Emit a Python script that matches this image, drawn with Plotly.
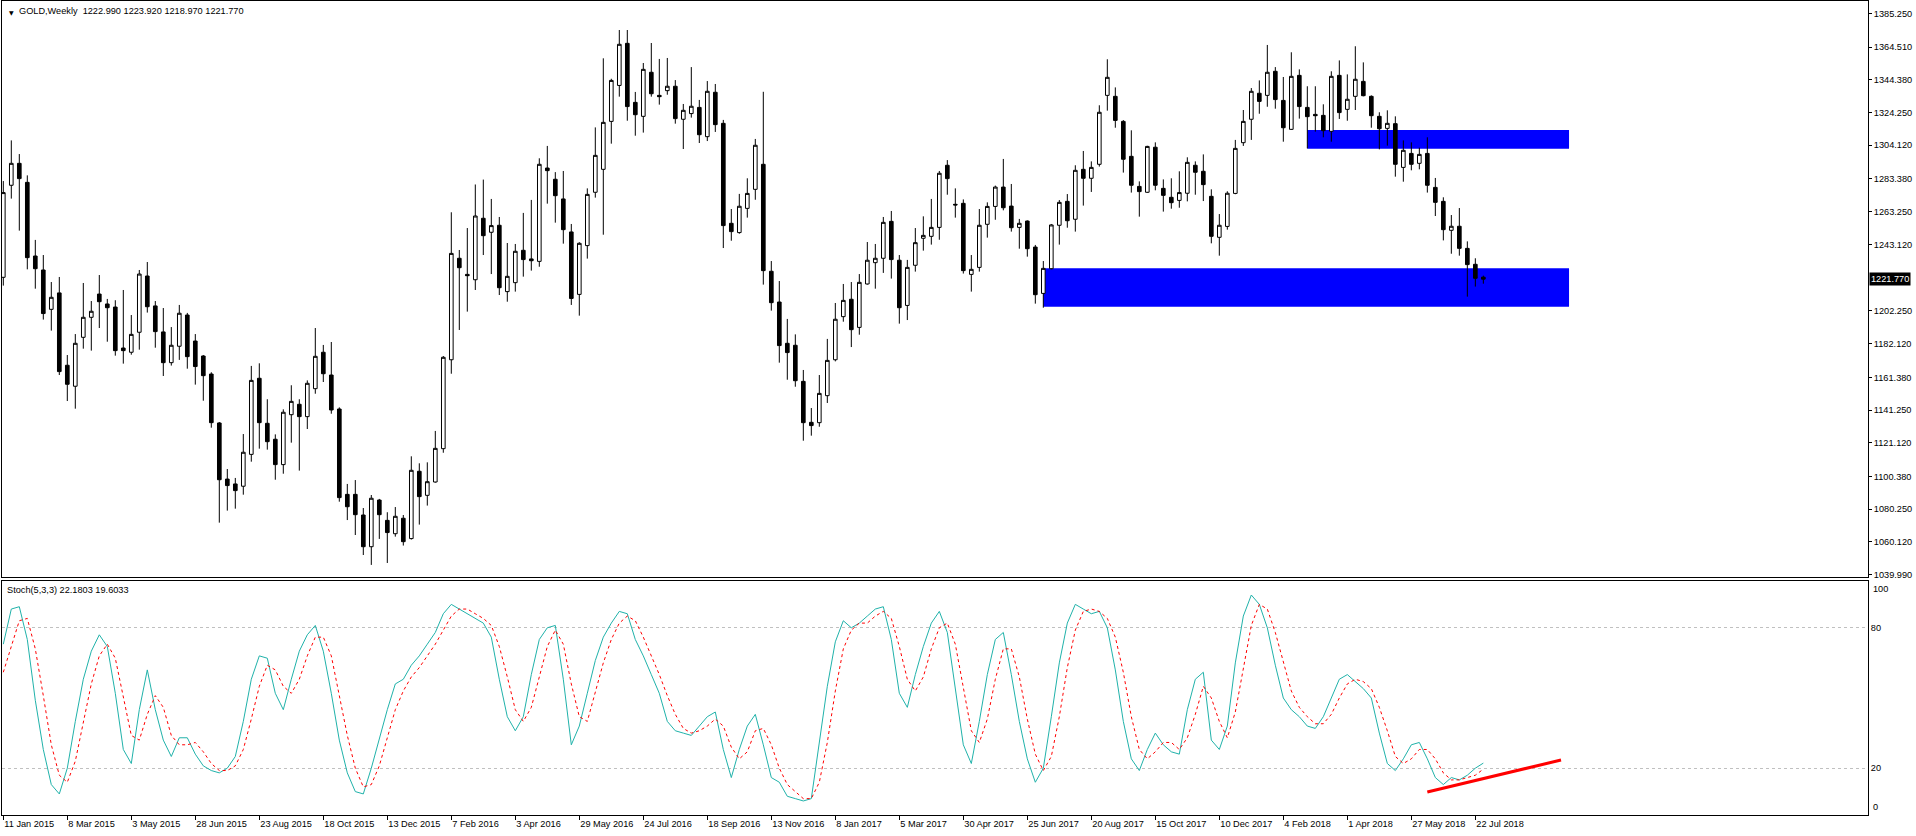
import pandas as pd
import plotly.graph_objects as go
from plotly.subplots import make_subplots

# ---------------- data ----------------
week_start = "2015-01-11"
n_weeks = 186
dates = pd.date_range(week_start, periods=n_weeks, freq="7D")

open_ = [1222.9, 1279.5, 1293.0, 1281.3, 1236.0, 1227.4, 1203.2, 1213.3, 1168.8, 1155.9,
         1186.0, 1198.3, 1212.6, 1206.5, 1204.6, 1179.4, 1176.8, 1189.1, 1223.7, 1205.3,
         1189.3, 1170.4, 1180.5, 1199.7, 1183.7, 1174.5, 1163.4, 1133.3, 1098.8, 1095.8,
         1094.4, 1114.0, 1160.8, 1133.1, 1123.3, 1107.7, 1138.4, 1144.8, 1137.2, 1154.4,
         1176.8, 1162.8, 1141.9, 1089.4, 1089.4, 1076.7, 1057.2, 1085.9, 1073.4, 1065.2,
         1074.7, 1062.2, 1103.6, 1088.8, 1097.0, 1117.5, 1172.2, 1234.6, 1224.7, 1221.4,
         1259.2, 1250.6, 1254.9, 1214.1, 1219.6, 1239.5, 1234.2, 1232.7, 1290.1, 1283.2,
         1271.1, 1250.8, 1212.4, 1242.4, 1275.2, 1289.3, 1318.8, 1340.9, 1366.8, 1330.5,
         1321.9, 1349.0, 1334.8, 1337.7, 1340.4, 1320.1, 1323.6, 1327.4, 1309.4, 1336.7,
         1317.6, 1256.1, 1250.4, 1265.3, 1277.0, 1292.4, 1226.6, 1207.7, 1182.3, 1181.1,
         1158.9, 1133.7, 1133.5, 1150.1, 1172.2, 1198.7, 1209.4, 1192.1, 1218.8, 1231.9,
         1234.6, 1257.3, 1233.4, 1205.6, 1230.3, 1246.9, 1248.1, 1253.6, 1291.8, 1267.8,
         1268.4, 1224.7, 1229.0, 1255.5, 1266.5, 1278.4, 1266.7, 1253.6, 1257.5, 1241.5,
         1213.0, 1228.2, 1254.9, 1269.6, 1258.6, 1289.3, 1283.8, 1292.4, 1334.8, 1334.2,
         1318.8, 1297.3, 1278.8, 1275.2, 1302.9, 1277.6, 1272.1, 1270.2, 1274.6, 1291.8,
         1288.1, 1272.7, 1247.5, 1254.2, 1274.5, 1305.7, 1320.1, 1336.1, 1334.8, 1349.6,
         1331.7, 1313.9, 1347.1, 1327.4, 1323.1, 1322.5, 1312.7, 1347.1, 1326.2, 1334.2,
         1343.4, 1334.2, 1321.9, 1314.5, 1317.4, 1290.5, 1299.1, 1293.0, 1299.1, 1278.2,
         1269.6, 1251.8, 1254.3, 1240.7, 1230.9, 1222.99]
high = [1282.1, 1307.1, 1298.7, 1285.6, 1245.9, 1236.6, 1220.0, 1223.1, 1175.1, 1188.0,
        1219.4, 1208.3, 1224.3, 1209.6, 1208.8, 1215.1, 1199.7, 1227.4, 1232.3, 1208.3,
        1204.0, 1192.3, 1205.9, 1201.0, 1188.0, 1175.1, 1164.5, 1133.9, 1105.0, 1099.5,
        1126.5, 1168.4, 1170.0, 1147.9, 1126.3, 1141.7, 1156.5, 1147.9, 1159.5, 1191.7,
        1181.3, 1183.1, 1142.9, 1095.8, 1098.2, 1081.0, 1089.0, 1086.6, 1078.4, 1081.6,
        1076.7, 1112.8, 1108.5, 1109.1, 1128.4, 1174.5, 1262.9, 1239.7, 1253.2, 1280.0,
        1283.0, 1271.1, 1260.0, 1244.0, 1243.4, 1262.5, 1270.5, 1296.1, 1303.7, 1287.6,
        1288.3, 1255.7, 1244.5, 1277.6, 1315.1, 1357.6, 1345.0, 1375.0, 1375.0, 1336.9,
        1354.7, 1367.0, 1357.2, 1357.8, 1344.2, 1329.5, 1352.2, 1332.0, 1343.6, 1341.8,
        1319.7, 1264.9, 1274.2, 1283.8, 1308.0, 1337.0, 1232.9, 1220.6, 1197.3, 1187.8,
        1165.9, 1142.5, 1162.8, 1185.0, 1207.1, 1218.8, 1220.0, 1224.9, 1244.6, 1243.4,
        1260.0, 1263.7, 1236.6, 1233.6, 1253.2, 1260.4, 1271.1, 1288.3, 1295.0, 1277.6,
        1270.8, 1236.6, 1264.9, 1269.0, 1279.3, 1295.7, 1280.3, 1258.8, 1257.9, 1242.8,
        1232.9, 1255.7, 1270.4, 1274.1, 1291.8, 1300.6, 1294.2, 1328.7, 1357.0, 1339.7,
        1319.6, 1313.3, 1281.9, 1303.8, 1305.9, 1283.1, 1283.8, 1288.1, 1296.7, 1294.2,
        1298.5, 1277.0, 1261.8, 1275.8, 1307.4, 1325.8, 1339.3, 1344.0, 1365.8, 1352.2,
        1346.1, 1361.3, 1350.8, 1340.4, 1340.4, 1329.3, 1349.6, 1356.3, 1347.7, 1365.0,
        1355.1, 1334.8, 1324.4, 1325.6, 1321.9, 1307.1, 1305.9, 1302.6, 1309.0, 1284.0,
        1272.1, 1261.2, 1265.5, 1245.0, 1234.6, 1223.92]
low = [1217.8, 1271.3, 1251.6, 1227.8, 1215.9, 1196.9, 1190.1, 1162.8, 1146.8, 1142.1,
       1179.0, 1177.8, 1191.7, 1183.3, 1174.7, 1169.8, 1175.3, 1178.4, 1201.2, 1179.6,
       1162.2, 1168.6, 1172.1, 1166.7, 1156.9, 1147.0, 1130.4, 1072.0, 1079.4, 1080.6,
       1089.2, 1109.5, 1117.5, 1116.9, 1098.4, 1102.1, 1121.2, 1104.0, 1129.6, 1151.3,
       1158.5, 1139.0, 1084.9, 1073.6, 1064.4, 1052.1, 1046.0, 1062.0, 1047.2, 1063.4,
       1057.9, 1061.6, 1070.8, 1082.5, 1096.6, 1115.0, 1163.6, 1190.5, 1201.8, 1215.1,
       1236.6, 1224.9, 1212.0, 1207.9, 1214.1, 1223.3, 1227.0, 1229.4, 1268.2, 1256.5,
       1243.6, 1205.9, 1199.3, 1234.4, 1271.9, 1249.1, 1305.1, 1334.0, 1319.2, 1310.0,
       1311.9, 1334.0, 1329.1, 1335.2, 1317.4, 1301.8, 1321.1, 1305.5, 1306.7, 1312.3,
       1240.9, 1245.4, 1249.7, 1259.6, 1270.6, 1218.4, 1202.4, 1170.4, 1159.9, 1155.6,
       1122.4, 1125.5, 1131.0, 1145.6, 1171.2, 1195.6, 1180.0, 1187.6, 1218.4, 1215.9,
       1225.6, 1222.1, 1194.4, 1196.6, 1226.4, 1239.3, 1243.0, 1246.0, 1273.7, 1259.6,
       1225.2, 1214.1, 1226.4, 1247.3, 1258.3, 1264.1, 1251.0, 1240.5, 1235.6, 1206.7,
       1204.2, 1227.8, 1243.0, 1253.4, 1251.0, 1267.0, 1275.4, 1291.0, 1325.4, 1314.9,
       1287.3, 1275.0, 1260.2, 1274.8, 1276.4, 1263.3, 1265.1, 1265.7, 1269.6, 1273.7,
       1269.8, 1243.8, 1236.2, 1252.2, 1274.0, 1303.7, 1307.4, 1323.5, 1327.8, 1326.6,
       1306.3, 1313.5, 1320.5, 1302.2, 1312.5, 1309.0, 1306.3, 1320.3, 1319.2, 1325.8,
       1334.2, 1314.9, 1301.6, 1303.9, 1284.8, 1281.7, 1288.7, 1289.3, 1275.0, 1260.6,
       1245.6, 1237.4, 1236.2, 1211.0, 1217.2, 1218.97]
close = [1275.0, 1293.0, 1283.6, 1235.0, 1228.2, 1200.6, 1210.6, 1164.9, 1157.1, 1182.3,
         1198.3, 1202.0, 1207.9, 1204.2, 1177.8, 1177.8, 1187.8, 1224.9, 1204.8, 1189.5,
         1170.4, 1181.1, 1200.8, 1174.1, 1168.0, 1162.4, 1133.5, 1098.4, 1094.8, 1091.7,
         1115.3, 1159.5, 1133.5, 1121.8, 1107.7, 1139.9, 1146.6, 1137.2, 1157.7, 1174.3,
         1163.6, 1141.3, 1087.4, 1081.8, 1076.9, 1057.2, 1087.0, 1076.9, 1065.9, 1075.9,
         1060.3, 1104.2, 1088.0, 1097.2, 1117.7, 1173.7, 1237.6, 1228.8, 1223.9, 1260.6,
         1248.5, 1254.7, 1216.5, 1223.5, 1238.9, 1233.8, 1233.1, 1292.4, 1288.5, 1273.1,
         1252.2, 1209.9, 1243.8, 1273.9, 1297.9, 1318.2, 1344.0, 1366.2, 1327.9, 1322.9,
         1350.8, 1335.8, 1334.0, 1340.4, 1320.5, 1325.6, 1328.1, 1310.6, 1337.3, 1316.8,
         1254.7, 1251.0, 1266.6, 1274.5, 1304.1, 1227.0, 1207.3, 1180.9, 1176.6, 1159.3,
         1133.5, 1131.7, 1151.5, 1171.8, 1197.1, 1208.7, 1190.7, 1219.8, 1233.4, 1234.6,
         1256.7, 1233.8, 1204.2, 1229.0, 1244.2, 1248.7, 1253.6, 1286.9, 1283.6, 1267.4,
         1227.0, 1227.8, 1254.9, 1266.5, 1278.4, 1265.7, 1253.4, 1256.1, 1240.5, 1212.2,
         1228.4, 1255.1, 1269.0, 1257.7, 1288.7, 1283.8, 1290.5, 1324.4, 1345.9, 1319.4,
         1295.5, 1279.5, 1275.6, 1303.4, 1279.5, 1273.3, 1268.8, 1275.0, 1293.6, 1287.5,
         1279.9, 1248.1, 1254.9, 1274.6, 1302.2, 1318.8, 1337.3, 1331.1, 1349.0, 1332.2,
         1314.9, 1346.5, 1327.9, 1321.7, 1322.3, 1313.1, 1346.5, 1324.2, 1332.4, 1344.7,
         1334.6, 1322.3, 1314.3, 1317.6, 1292.4, 1301.0, 1292.4, 1298.5, 1279.5, 1269.0,
         1252.2, 1254.3, 1240.7, 1230.7, 1222.3, 1221.77]

stoch_k = [73, 88, 89, 75, 49, 28, 13, 9, 20, 40,
           58, 70, 77, 72, 52, 28, 22, 45, 62, 45,
           32, 25, 33, 33, 26, 21, 19, 18, 20, 25,
           40, 58, 68, 67, 52, 45, 58, 70, 77, 81,
           70, 52, 32, 18, 10, 9, 20, 33, 45, 56,
           58, 64, 68, 73, 78, 86, 90, 88, 86, 84,
           82, 76, 58, 42, 36, 42, 60, 75, 80, 81,
           58, 30, 38, 52, 66, 76, 82, 87, 86, 75,
           68, 60, 52, 40, 36, 35, 34, 38, 42, 44,
           28, 16, 28, 38, 43, 30, 16, 14, 8, 7,
           6, 7, 30, 55, 74, 83, 80, 82, 85, 88,
           89, 75, 52, 46, 60, 72, 82, 87, 78, 55,
           30, 22, 40, 60, 75, 78, 60, 40, 24, 14,
           20, 42, 65, 82, 90, 88, 86, 87, 80, 62,
           40, 24, 19, 28, 35, 30, 27, 26, 45, 58,
           61, 32, 28, 38, 65, 85, 94, 90, 80, 64,
           50, 45, 42, 38, 37, 42, 50, 58, 60, 57,
           54, 50, 35, 22, 19, 24, 30, 31, 24, 16,
           13, 16, 15, 17, 20, 22.1803]
stoch_d = [61, 72, 83, 84, 71, 51, 30, 17, 14, 23,
           39, 56, 68, 73, 67, 51, 34, 32, 43, 51,
           46, 34, 30, 30, 31, 27, 22, 19, 19, 21,
           28, 41, 55, 64, 62, 55, 52, 58, 68, 76,
           76, 68, 51, 34, 20, 12, 13, 21, 33, 45,
           53, 59, 63, 68, 73, 79, 85, 88, 88, 86,
           84, 81, 72, 59, 45, 40, 46, 59, 72, 79,
           73, 56, 42, 40, 52, 65, 75, 82, 85, 83,
           76, 68, 60, 51, 43, 37, 35, 36, 38, 41,
           38, 29, 24, 27, 36, 37, 30, 20, 13, 10,
           7, 7, 14, 31, 53, 71, 79, 82, 82, 85,
           87, 84, 72, 58, 53, 59, 71, 80, 82, 73,
           54, 36, 31, 41, 58, 71, 71, 59, 41, 26,
           19, 25, 42, 63, 79, 87, 88, 87, 84, 76,
           61, 42, 28, 24, 27, 31, 31, 28, 33, 43,
           55, 50, 40, 33, 44, 63, 81, 90, 88, 78,
           65, 53, 46, 42, 39, 39, 43, 50, 56, 58,
           57, 54, 46, 36, 25, 22, 24, 28, 28, 24,
           18, 15, 15, 16, 17, 19.6033]

price_ticks = [1385.25, 1364.51, 1344.38, 1324.25, 1304.12, 1283.38, 1263.25, 1243.12,
               1202.25, 1182.12, 1161.38, 1141.25, 1121.12, 1100.38, 1080.25, 1060.12, 1039.99]
date_tick_labels = ["11 Jan 2015", "8 Mar 2015", "3 May 2015", "28 Jun 2015", "23 Aug 2015",
                    "18 Oct 2015", "13 Dec 2015", "7 Feb 2016", "3 Apr 2016", "29 May 2016",
                    "24 Jul 2016", "18 Sep 2016", "13 Nov 2016", "8 Jan 2017", "5 Mar 2017",
                    "30 Apr 2017", "25 Jun 2017", "20 Aug 2017", "15 Oct 2017", "10 Dec 2017",
                    "4 Feb 2018", "1 Apr 2018", "27 May 2018", "22 Jul 2018"]
stoch_levels = [20, 80]

# drawn objects (zones and trend line), in data units
zone_start = ["2017-07-09", "2018-02-25"]
zone_end = ["2018-10-12", "2018-10-12"]
zone_low = [1204.8, 1302.0]
zone_high = [1228.4, 1313.5]
trend_dates = ["2018-06-10", "2018-10-05"]
trend_values = [9.8, 23.5]

last_price = 1221.77
header = "GOLD,Weekly\u00a0\u00a01222.990 1223.920 1218.970 1221.770"
stoch_header = "Stoch(5,3,3) 22.1803 19.6033"

# ---------------- figure ----------------
FONT = "Liberation Sans, Arial, sans-serif"
FS = 9.2

fig = make_subplots(rows=2, cols=1, shared_xaxes=True, vertical_spacing=0.0)

fig.add_trace(go.Candlestick(
    x=dates, open=open_, high=high, low=low, close=close,
    increasing=dict(fillcolor="white", line=dict(color="black", width=1)),
    decreasing=dict(fillcolor="black", line=dict(color="black", width=1)),
    whiskerwidth=0, showlegend=False, hoverinfo="skip"), row=1, col=1)

fig.add_trace(go.Scatter(x=dates, y=stoch_k, mode="lines",
                         line=dict(color="#20B2AA", width=1), showlegend=False,
                         hoverinfo="skip"), row=2, col=1)
fig.add_trace(go.Scatter(x=dates, y=stoch_d, mode="lines",
                         line=dict(color="#FF0000", width=1, dash="3px,3px"),
                         showlegend=False, hoverinfo="skip"), row=2, col=1)
fig.add_trace(go.Scatter(x=trend_dates, y=trend_values, mode="lines",
                         line=dict(color="#FF0000", width=3), showlegend=False,
                         hoverinfo="skip"), row=2, col=1)

for x0, x1, y0, y1 in zip(zone_start, zone_end, zone_low, zone_high):
    fig.add_shape(type="rect", xref="x", yref="y", x0=x0, x1=x1, y0=y0, y1=y1,
                  fillcolor="#0000FF", line=dict(width=0), layer="below")

x_range = ["2015-01-09 20:40", "2019-06-30 14:00"]
tick_dates = list(dates[::8])

axis_common = dict(showline=True, mirror=True, linecolor="black", linewidth=1,
                   zeroline=False)

fig.update_xaxes(range=x_range, showgrid=False, rangeslider_visible=False, **axis_common)
fig.update_xaxes(showticklabels=False, ticks="", row=1, col=1)
fig.update_xaxes(tickvals=tick_dates, ticktext=date_tick_labels, ticks="outside",
                 ticklen=4, tickcolor="black", ticklabelposition="outside right",
                 tickfont=dict(family=FONT, size=FS, color="black"), row=2, col=1)

fig.update_yaxes(side="right", range=[1038.28, 1392.84], domain=[0.2918, 1.0],
                 tickvals=price_ticks, ticktext=[f"{v:.3f}" for v in price_ticks],
                 ticks="outside", ticklen=3, tickcolor="black", showgrid=False,
                 tickfont=dict(family=FONT, size=FS, color="black"), **axis_common,
                 row=1, col=1)
fig.update_yaxes(side="right", range=[0, 100], domain=[0.0, 0.2875],
                 tickvals=stoch_levels, ticktext=[str(v) for v in stoch_levels],
                 ticks="", showgrid=True, gridcolor="#C0C0C0", gridwidth=1,
                 griddash="3px,3px",
                 tickfont=dict(family=FONT, size=FS, color="black"), **axis_common,
                 row=2, col=1)

ann_font = dict(family=FONT, size=FS, color="black")
fig.add_annotation(xref="paper", yref="paper", x=0, y=1, xanchor="left", yanchor="top",
                   xshift=5, yshift=-6, text="\u25bc", showarrow=False,
                   font=dict(family="DejaVu Sans", size=6, color="black"))
fig.add_annotation(xref="paper", yref="paper", x=0, y=1, xanchor="left", yanchor="top",
                   xshift=15, yshift=-3, text=header, showarrow=False, font=ann_font)
fig.add_annotation(xref="paper", yref="paper", x=0, y=0.2875, xanchor="left",
                   yanchor="top", xshift=3, yshift=-2, text=stoch_header,
                   showarrow=False, font=ann_font)
fig.add_annotation(xref="paper", yref="y", x=1, y=last_price, xanchor="left",
                   yanchor="middle", xshift=1, text=f"{last_price:.3f}", showarrow=False,
                   bgcolor="black", borderpad=1, font=dict(family=FONT, size=FS, color="white"))
fig.add_annotation(xref="paper", yref="y2", x=1, y=100, xanchor="left", yanchor="top",
                   xshift=3, yshift=-1, text="100", showarrow=False, font=ann_font)
fig.add_annotation(xref="paper", yref="y2", x=1, y=0, xanchor="left", yanchor="bottom",
                   xshift=3, yshift=1, text="0", showarrow=False, font=ann_font)

fig.update_layout(width=1916, height=836, margin=dict(l=2, r=48, t=1, b=21),
                  paper_bgcolor="white", plot_bgcolor="white", boxgap=0.35,
                  hovermode=False, showlegend=False,
                  font=dict(family=FONT, size=FS, color="black"))

fig.write_html("out.html")
